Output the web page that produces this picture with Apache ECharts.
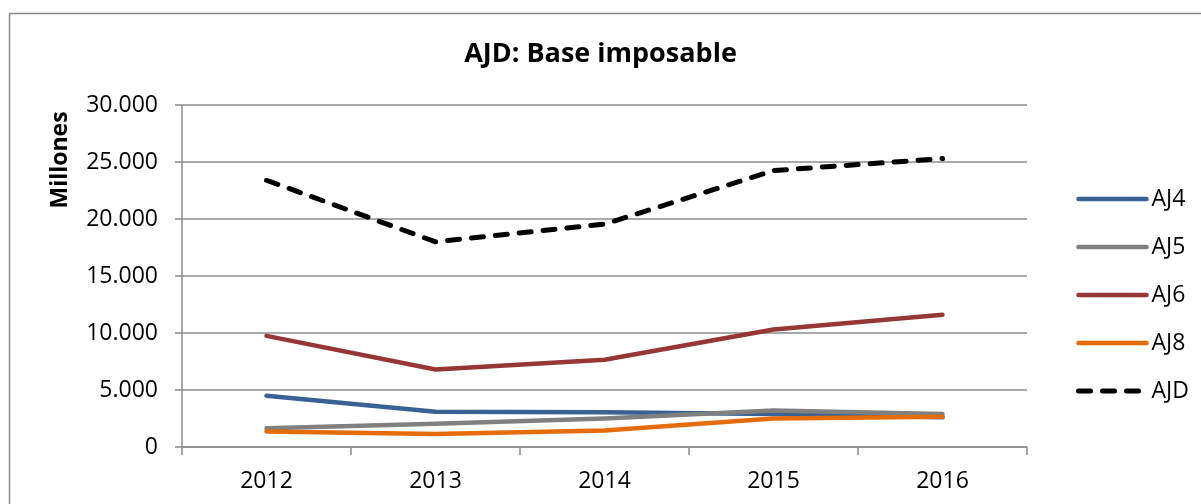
<!DOCTYPE html>
<html>
<head>
<meta charset="utf-8">
<title>AJD: Base imposable</title>
<script src="https://cdn.jsdelivr.net/npm/echarts@6.0.0/dist/echarts.min.js"></script>
<style>
  html, body { margin: 0; padding: 0; background: #fff; }
  #chart { width: 1201px; height: 504px; }
</style>
</head>
<body>
<div id="chart"></div>
<script>
// years on the x axis
var years = ['2012', '2013', '2014', '2015', '2016']

// values in millions
var aj4 = [4500, 3100, 3050, 2900, 2600]
var aj5 = [1650, 2050, 2500, 3200, 2900]
var aj6 = [9750, 6800, 7650, 10300, 11600]
var aj8 = [1350, 1150, 1450, 2500, 2650]
var ajd = [23400, 18000, 19550, 24250, 25300]

var seriesNames = ['AJ4', 'AJ5', 'AJ6', 'AJ8', 'AJD']
var seriesColors = ['#386194', '#808080', '#953735', '#E46C0A', '#000000']

var font = '"Open Sans", "Liberation Sans", sans-serif'
var gridColor = '#8c8c8c'

function thousands(v) {
  return String(v).replace(/\B(?=(\d{3})+(?!\d))/g, '.')
}

function lineSeries(name, data, color, dashed) {
  return {
    name: name,
    type: 'line',
    data: data,
    symbol: 'none',
    color: color,
    lineStyle: {
      color: color,
      width: dashed ? 5 : 4.5,
      type: dashed ? [12, 12] : 'solid',
      cap: 'round',
      join: 'round'
    },
    animation: false
  }
}

var chart = echarts.init(document.getElementById('chart'))

var option = {
  backgroundColor: '#fff',
  animation: false,
  title: {
    text: 'AJD: Base imposable',
    left: 'center',
    top: 41,
    padding: [0, 0, 0, 17],
    textStyle: {
      fontFamily: font,
      fontWeight: 'bold',
      fontSize: 27,
      lineHeight: 27,
      color: '#000'
    }
  },
  graphic: [
    {
      type: 'rect',
      shape: { x: 9.5, y: 13.5, width: 1400, height: 700 },
      style: { fill: null, stroke: '#8a8a8a', lineWidth: 1.5 },
      silent: true
    },
    {
      type: 'text',
      x: 60,
      y: 160,
      rotation: Math.PI / 2,
      style: {
        text: 'Millones',
        font: 'bold 23px ' + font,
        fill: '#000',
        align: 'center',
        verticalAlign: 'middle'
      }
    }
  ],
  legend: {
    orient: 'vertical',
    left: 1071,
    top: 182,
    itemWidth: 68,
    itemHeight: 12,
    itemGap: 24,
    data: seriesNames.map(function (n) {
      return { name: n, lineStyle: { width: n === 'AJD' ? 5 : 4.5 } }
    }),
    itemStyle: { opacity: 0 },
    lineStyle: { cap: 'round', width: 4.5 },
    textStyle: {
      fontFamily: font,
      fontSize: 23,
      lineHeight: 24,
      color: '#000'
    }
  },
  grid: {
    left: 182,
    right: 174,
    top: 105,
    bottom: 57,
    outerBoundsMode: 'none'
  },
  xAxis: {
    type: 'category',
    data: years,
    boundaryGap: true,
    axisLine: { show: true, lineStyle: { color: gridColor, width: 1.5 } },
    axisTick: { show: true, length: 8, lineStyle: { color: gridColor, width: 1.5 } },
    axisLabel: {
      margin: 23,
      fontFamily: font,
      fontSize: 23,
      lineHeight: 23,
      color: '#000'
    },
    splitLine: { show: false }
  },
  yAxis: {
    type: 'value',
    min: 0,
    max: 30000,
    interval: 5000,
    axisLine: { show: true, lineStyle: { color: gridColor, width: 1.5 } },
    axisTick: { show: true, length: 7, lineStyle: { color: gridColor, width: 1.5 } },
    axisLabel: {
      margin: 24,
      fontFamily: font,
      fontSize: 23,
      color: '#000',
      formatter: thousands
    },
    splitLine: { show: true, lineStyle: { color: gridColor, width: 1.5 } }
  },
  series: [
    lineSeries('AJ4', aj4, seriesColors[0], false),
    lineSeries('AJ5', aj5, seriesColors[1], false),
    lineSeries('AJ6', aj6, seriesColors[2], false),
    lineSeries('AJ8', aj8, seriesColors[3], false),
    lineSeries('AJD', ajd, seriesColors[4], true)
  ]
}

chart.setOption(option)
</script>
</body>
</html>
